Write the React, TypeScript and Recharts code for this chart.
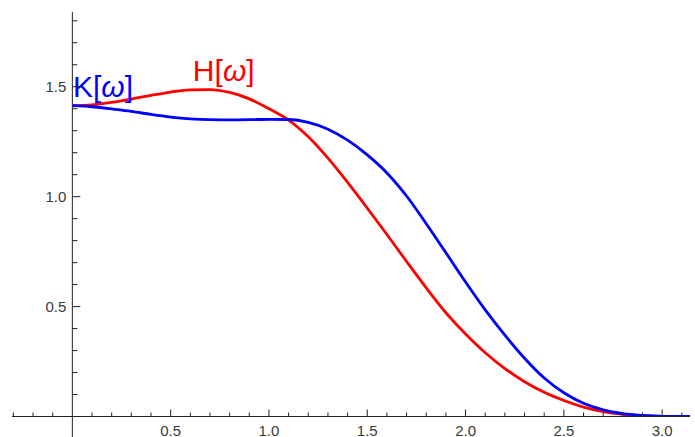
import { LineChart, Line, XAxis, YAxis, ReferenceLine, ReferenceDot } from "recharts";

// sample points in omega
const omega = [
  0, 0.1, 0.2, 0.3, 0.4, 0.5, 0.6, 0.7, 0.8, 0.9, 1.0, 1.1, 1.2, 1.3, 1.4, 1.5,
  1.6, 1.7, 1.8, 1.9, 2.0, 2.1, 2.2, 2.3, 2.4, 2.5, 2.6, 2.7, 2.8, 2.9, 3.0, 3.1, Math.PI,
];
const hValues = [
  1.414, 1.418, 1.429, 1.444, 1.461, 1.476, 1.486, 1.487, 1.474, 1.445, 1.4, 1.348, 1.272,
  1.175, 1.065, 0.948, 0.828, 0.705, 0.585, 0.472, 0.375, 0.29, 0.218, 0.158, 0.11, 0.073,
  0.043, 0.022, 0.01, 0.004, 0.001, 0.0, 0.0,
];
const kValues = [
  1.414, 1.409, 1.399, 1.388, 1.374, 1.362, 1.354, 1.35, 1.349, 1.35, 1.352, 1.351, 1.338,
  1.307, 1.257, 1.19, 1.108, 1.003, 0.877, 0.745, 0.612, 0.485, 0.37, 0.265, 0.175, 0.108,
  0.06, 0.03, 0.013, 0.005, 0.001, 0.0, 0.0,
];

const xTicks = [
  -0.3, -0.2, -0.1, 0, 0.1, 0.2, 0.3, 0.4, 0.5, 0.6, 0.7, 0.8, 0.9, 1.0, 1.1, 1.2, 1.3, 1.4,
  1.5, 1.6, 1.7, 1.8, 1.9, 2.0, 2.1, 2.2, 2.3, 2.4, 2.5, 2.6, 2.7, 2.8, 2.9, 3.0, 3.1,
];
const yTicks = [
  0.1, 0.2, 0.3, 0.4, 0.5, 0.6, 0.7, 0.8, 0.9, 1.0, 1.1, 1.2, 1.3, 1.4, 1.5, 1.6, 1.7, 1.8,
];

const data = omega.map((w, i) => ({ w, H: hValues[i], K: kValues[i] }));

const W = 695;
const H = 437;
const Y_AXIS_W = 1;
const MARGIN = { top: 12, right: 5, bottom: 0.5, left: 11 };
const X_DOMAIN: [number, number] = [-0.307, Math.PI];
const Y_DOMAIN: [number, number] = [0, 1.84];
const PLOT_LEFT = MARGIN.left + Y_AXIS_W;
const PLOT_W = W - PLOT_LEFT - MARGIN.right;
// pixel position of omega = 0, where the vertical axis sits
const X0 = PLOT_LEFT + (PLOT_W * (0 - X_DOMAIN[0])) / (X_DOMAIN[1] - X_DOMAIN[0]);

const FONT = "'Liberation Sans', Arial, sans-serif";
const AXIS = "#222";
const LABEL = "#3a3a3a";

const isMajor = (v: number) => Math.abs(v * 2 - Math.round(v * 2)) < 1e-6;

function XTick(props: any) {
  const { x, y, payload } = props;
  const v = payload.value as number;
  if (Math.abs(v) < 1e-6) {
    // vertical axis continues below the horizontal one
    return <line x1={x} y1={y} x2={x} y2={H} stroke={AXIS} strokeWidth={1} />;
  }
  const major = isMajor(v);
  return (
    <g>
      <line x1={x} y1={y} x2={x} y2={y - (major ? 7 : 4)} stroke={AXIS} strokeWidth={1} />
      {major && v > 0 && (
        <text x={x} y={y + 19.5} textAnchor="middle" fontSize={15} fontFamily={FONT} fill={LABEL}>
          {v.toFixed(1)}
        </text>
      )}
    </g>
  );
}

function YTick(props: any) {
  const { y, payload } = props;
  const v = payload.value as number;
  const major = isMajor(v);
  return (
    <g>
      <line x1={X0} y1={y} x2={X0 + (major ? 8 : 5)} y2={y} stroke={AXIS} strokeWidth={1} />
      {major && (
        <text x={X0 - 6} y={y + 5} textAnchor="end" fontSize={15} fontFamily={FONT} fill={LABEL}>
          {v.toFixed(1)}
        </text>
      )}
    </g>
  );
}

function curveLabel(name: string, color: string) {
  return (props: any) => (
    <text x={props.cx} y={props.cy} fontSize={30} fontFamily={FONT} fill={color}>
      {name}[<tspan fontStyle="italic">ω</tspan>]
    </text>
  );
}

export default function App() {
  return (
    <div style={{ position: "absolute", left: 0, top: 0, background: "#fff" }}>
      <LineChart width={W} height={H} data={data} margin={MARGIN}>
        <XAxis
          dataKey="w"
          type="number"
          domain={X_DOMAIN}
          ticks={xTicks}
          interval={0}
          allowDataOverflow
          height={20}
          tickSize={0}
          tickMargin={0}
          tickLine={false}
          axisLine={{ stroke: AXIS, strokeWidth: 1 }}
          tick={<XTick />}
        />
        <YAxis
          type="number"
          domain={Y_DOMAIN}
          ticks={yTicks}
          interval={0}
          allowDataOverflow
          width={Y_AXIS_W}
          tickSize={0}
          tickMargin={0}
          tickLine={false}
          axisLine={false}
          tick={<YTick />}
        />
        <ReferenceLine x={0} stroke={AXIS} strokeWidth={1} />
        <Line
          type="monotone"
          dataKey="H"
          stroke="#ff0000"
          strokeWidth={2.8}
          dot={false}
          isAnimationActive={false}
        />
        <Line
          type="monotone"
          dataKey="K"
          stroke="#0000ff"
          strokeWidth={2.8}
          dot={false}
          isAnimationActive={false}
        />
        <ReferenceDot x={0.003} y={1.452} r={0} shape={curveLabel("K", "#0000ff")} />
        <ReferenceDot x={0.613} y={1.525} r={0} shape={curveLabel("H", "#ff0000")} />
      </LineChart>
    </div>
  );
}
